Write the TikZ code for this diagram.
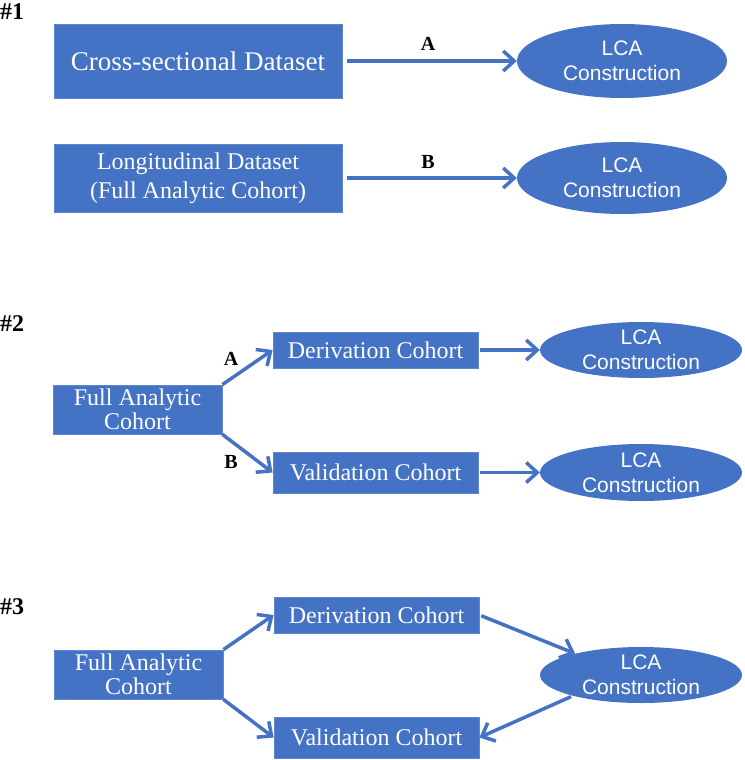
\documentclass[tikz,border=0pt]{standalone}
\usepackage{fontspec}
\setmainfont{Liberation Serif}
\setsansfont{Liberation Sans}
\usetikzlibrary{shapes.geometric,arrows.meta}
\definecolor{obl}{HTML}{4472C4}
\begin{document}
\begin{tikzpicture}[x=1pt,y=-1pt,
 box/.style={fill=obl, draw=obl!85!white, line width=0.8pt, text=white, inner sep=0pt,
   font=\fontsize{24}{24}\selectfont, align=center},
 lca/.style={ellipse, fill=obl, inner sep=0pt, minimum width=202pt, minimum height=56pt,
   label={[text=white, font=\sffamily\fontsize{21}{25}\selectfont, align=center]center:LCA\\Construction}},
 arr/.style={draw=obl, line width=3.5pt, -{Straight Barb[length=11pt,width=20pt]}},
 sec/.style={font=\bfseries\fontsize{24}{24}\selectfont, anchor=base west, inner sep=0pt},
 lab/.style={font=\bfseries\fontsize{20}{20}\selectfont, inner sep=0pt}]
\useasboundingbox (0,0) rectangle (744,760);

% ---- #1
\node[sec] (s1) at (0,20) {\#1};
\node[box, minimum width=288pt, minimum height=74pt, font=\fontsize{27}{27}\selectfont] (b1) at (198,61) {Cross-sectional Dataset};
\node[box, minimum width=288pt, minimum height=68pt, font=\fontsize{24}{29}\selectfont] (b2) at (198,178) {Longitudinal Dataset\\(Full Analytic Cohort)};
\node[lca, minimum width=210pt, minimum height=74pt] (e1) at (622,61) {};
\node[lca, minimum width=210pt, minimum height=72pt] (e2) at (622,178) {};
\draw[arr, shorten <=5pt] (b1) -- (e1);
\draw[arr, shorten <=5pt] (b2) -- (e2);
\node[lab] (la1) at (428,44) {A};
\node[lab] (lb1) at (428,162) {B};

% ---- #2
\node[sec] (s2) at (0,331) {\#2};
\node[box, minimum width=169pt, minimum height=49pt] (f2) at (137.5,409.5) {Full Analytic\\Cohort};
\node[box, minimum width=205pt, minimum height=36pt] (d2) at (375.5,350) {Derivation Cohort};
\node[box, minimum width=205pt, minimum height=41pt] (v2) at (375.5,472.5) {Validation Cohort};
\node[lca] (e3) at (641,350) {};
\node[lca, minimum height=57pt] (e4) at (641,472.5) {};
\draw[arr] (f2.north east) -- (d2.west);
\draw[arr] (f2.south east) -- (v2.west);
\node[lab] (la2) at (231,359) {A};
\node[lab] (lb2) at (231,462) {B};
\draw[arr, shorten <=2pt] (d2) -- (e3);
\draw[arr, shorten <=2pt] (v2) -- (e4);

% ---- #3
\node[sec] (s3) at (0,614) {\#3};
\node[box, minimum width=169pt, minimum height=49pt] (f3) at (138.5,674.5) {Full Analytic\\Cohort};
\node[box, minimum width=205pt, minimum height=36pt] (d3) at (376.5,615) {Derivation Cohort};
\node[box, minimum width=205pt, minimum height=41pt] (v3) at (376.5,737.5) {Validation Cohort};
\node[lca] (e5) at (641,675) {};
\draw[arr] (f3.north east) -- (d3.west);
\draw[arr] (f3.south east) -- (v3.west);
\draw[arr, shorten <=2pt] (d3.east) -- (e5.162);
\draw[arr, shorten <=2pt] (e5.197) -- (v3.east);
\end{tikzpicture}
\end{document}
